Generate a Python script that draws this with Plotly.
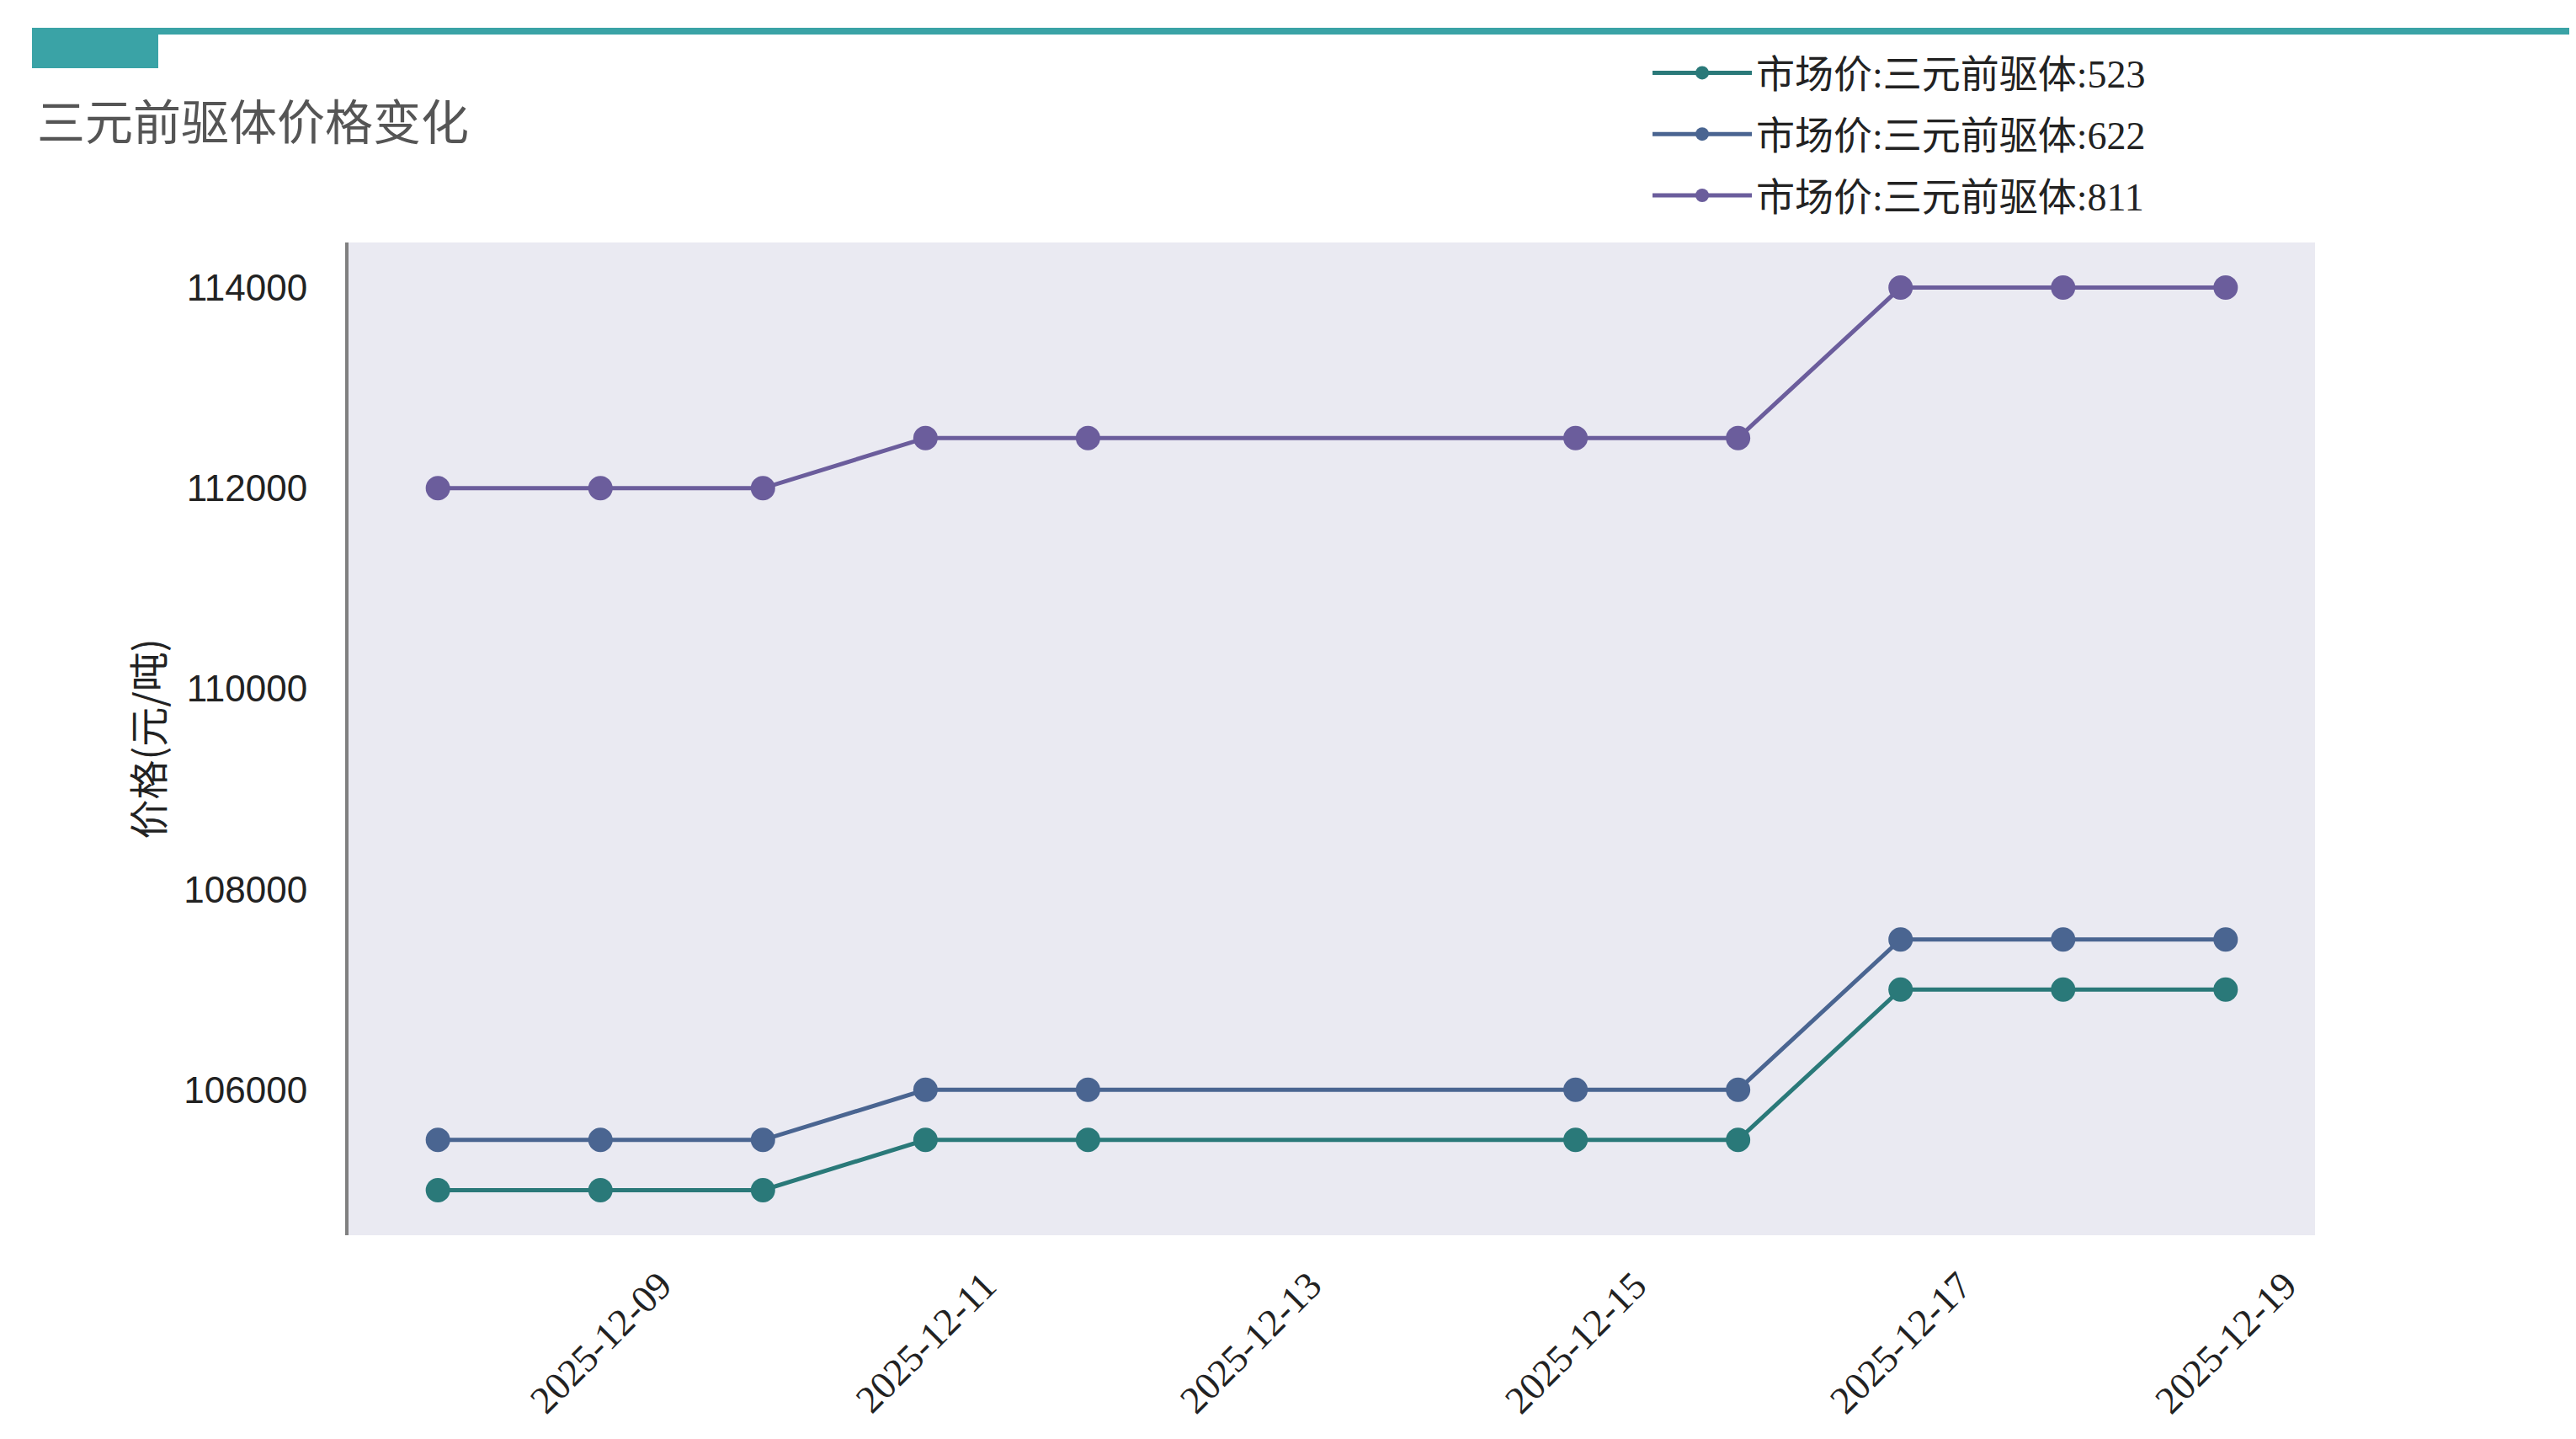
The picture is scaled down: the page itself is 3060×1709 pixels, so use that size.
import plotly.graph_objects as go

# ---- data ----
dates = ["2025-12-08", "2025-12-09", "2025-12-10", "2025-12-11", "2025-12-12",
         "2025-12-15", "2025-12-16", "2025-12-17", "2025-12-18", "2025-12-19"]
price_523 = [105000, 105000, 105000, 105500, 105500, 105500, 105500, 107000, 107000, 107000]
price_622 = [105500, 105500, 105500, 106000, 106000, 106000, 106000, 107500, 107500, 107500]
price_811 = [112000, 112000, 112000, 112500, 112500, 112500, 112500, 114000, 114000, 114000]
series_names = ["市场价:三元前驱体:523", "市场价:三元前驱体:622", "市场价:三元前驱体:811"]
x_tick_labels = ["2025-12-09", "2025-12-11", "2025-12-13", "2025-12-15", "2025-12-17", "2025-12-19"]
y_tick_vals = [106000, 108000, 110000, 112000, 114000]
title_text = "三元前驱体价格变化"
y_title = "价格(元/吨)"

# ---- layout geometry (pixels) ----
W, H = 3060, 1709
L, R, T, B = 406, 2742, 280, 1459


def px_x(p):
    return (p - L) / (R - L)


def px_y(p):
    return (B - p) / (B - T)


colors = ["#2a7979", "#4a6591", "#6b5d9c"]
fig = go.Figure()
for name, vals, c in zip(series_names, [price_523, price_622, price_811], colors):
    fig.add_trace(go.Scatter(
        x=dates, y=vals, name=name, mode="lines+markers",
        line=dict(color=c, width=5),
        marker=dict(color=c, size=29),
        legendgroup=name,
    ))

# rotated, centred date labels placed on the x axis
for d in x_tick_labels:
    fig.add_annotation(
        x=d, xref="x", y=0, yref="paper", yshift=-127,
        text=d, textangle=-45, showarrow=False,
        xanchor="center", yanchor="middle",
        font=dict(family="Liberation Serif", size=46, color="#222222"),
    )

# decorative header bar
teal = "#3aa3a6"
fig.add_shape(type="rect", xref="paper", yref="paper",
              x0=px_x(30), x1=px_x(3045), y0=px_y(33), y1=px_y(25),
              fillcolor=teal, line=dict(width=0), layer="above")
fig.add_shape(type="rect", xref="paper", yref="paper",
              x0=px_x(30), x1=px_x(180), y0=px_y(73), y1=px_y(25),
              fillcolor=teal, line=dict(width=0), layer="above")

fig.update_layout(
    width=W, height=H,
    margin=dict(l=L, r=W - R, t=T, b=H - B, autoexpand=False),
    paper_bgcolor="white",
    plot_bgcolor="#eaeaf2",
    title=dict(text=title_text, xref="container", yref="container",
               x=36 / W, xanchor="left", y=1 - 138 / H, yanchor="middle",
               font=dict(family="Noto Sans CJK SC", size=57, color="#555555")),
    legend=dict(x=px_x(1950), y=px_y(42), xanchor="left", yanchor="top",
                bgcolor="rgba(0,0,0,0)", tracegroupgap=10, itemwidth=118,
                font=dict(family="Liberation Serif, Noto Sans CJK SC", size=46, color="#222222")),
    showlegend=True,
)
fig.update_xaxes(
    type="date",
    range=["2025-12-07 10:48", "2025-12-19 13:12"],
    showgrid=False, zeroline=False, showline=False,
    tickvals=x_tick_labels, showticklabels=False, ticks="",
)
fig.update_yaxes(
    range=[104550, 114450],
    tickvals=y_tick_vals, tickformat="d",
    showgrid=False, zeroline=False,
    showline=True, linecolor="#808080", linewidth=4,
    ticks="", ticklabelstandoff=36,
    tickfont=dict(family="Liberation Sans", size=44, color="#222222"),
    title=dict(text=y_title, standoff=10,
               font=dict(family="Noto Sans CJK SC", size=47, color="#222222")),
)

fig.write_html("out.html")
